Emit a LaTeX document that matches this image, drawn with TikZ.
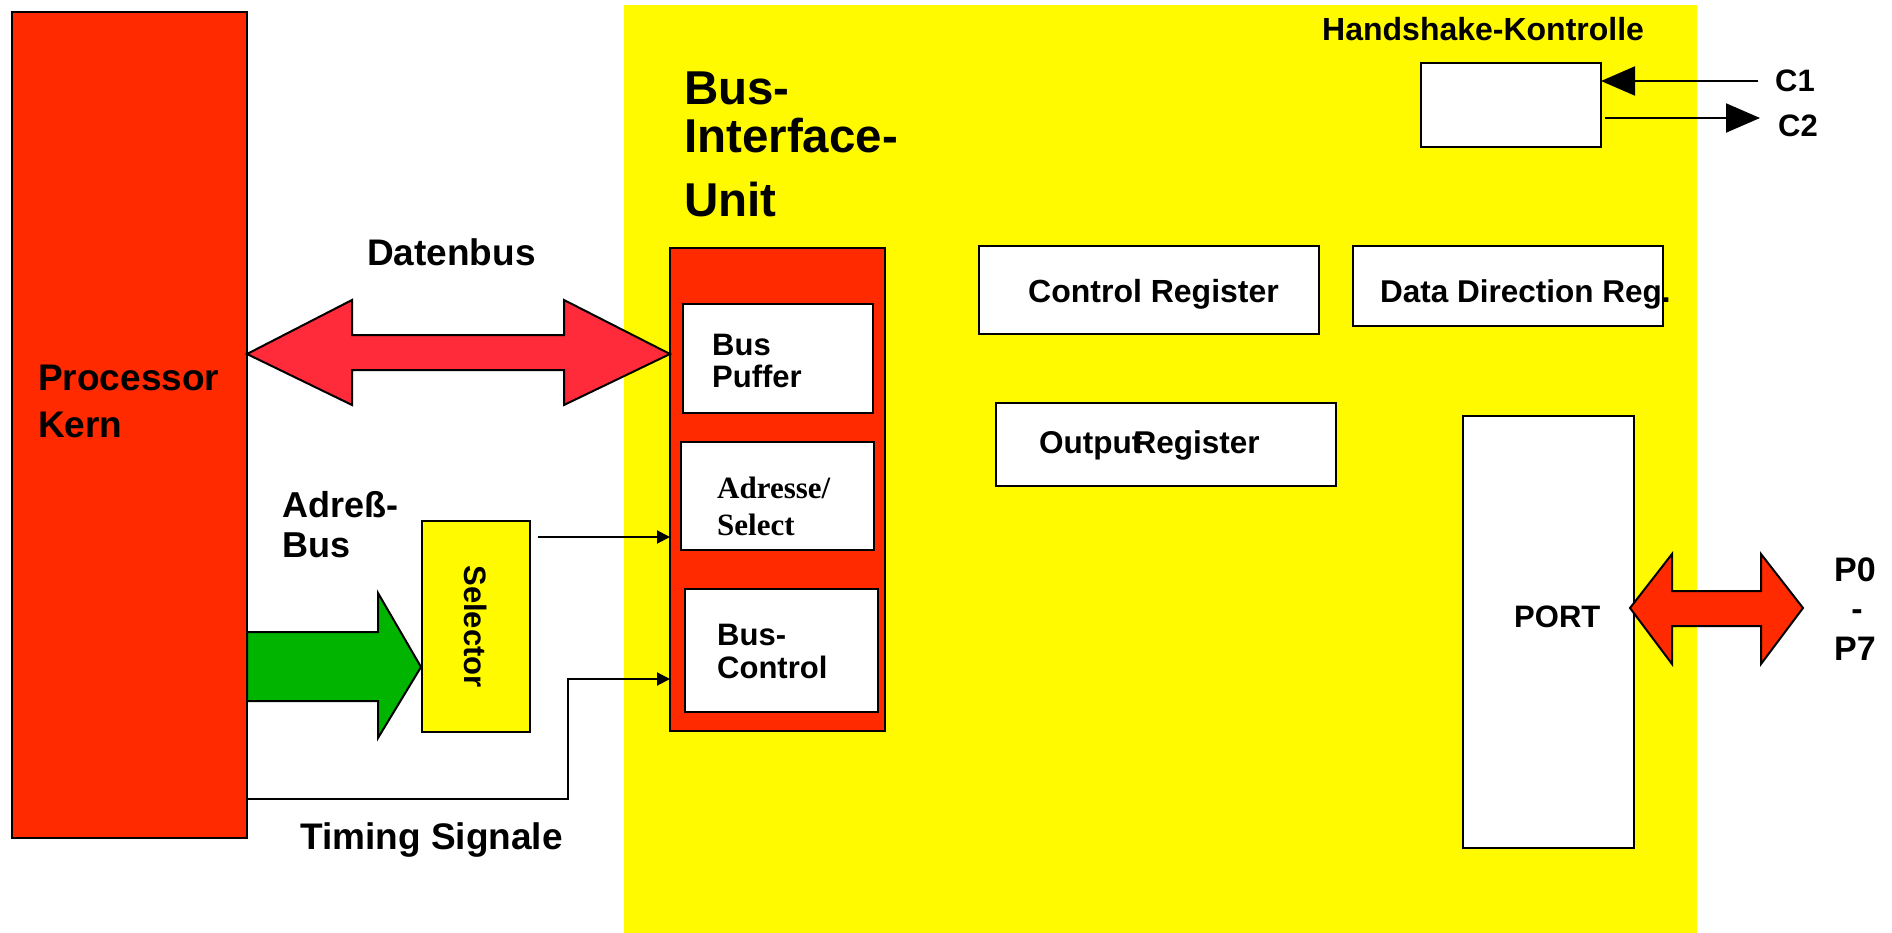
\documentclass[tikz,border=0pt]{standalone}
\usepackage{fontspec}
\setmainfont{Liberation Sans}
\newfontfamily\serifbf{Liberation Serif}
\usetikzlibrary{arrows.meta}
\definecolor{procred}{RGB}{255,42,0}
\definecolor{busred}{RGB}{255,42,58}
\definecolor{biuyellow}{RGB}{255,250,0}
\definecolor{arrgreen}{RGB}{0,180,0}
\tikzset{
  box/.style={draw=black, line width=2pt, fill=white, anchor=north west, inner sep=0pt, outer sep=0pt},
  lbl/.style={inner sep=0pt, anchor=base west, font=\bfseries\fontsize{31}{31}\selectfont},
  biglbl/.style={lbl, font=\bfseries\fontsize{37}{37}\selectfont},
  titlelbl/.style={lbl, font=\bfseries\fontsize{47.5}{47.5}\selectfont},
  fatarrow/.style={draw=black, line width=2pt, line join=miter},
  sig/.style={draw=black, line width=2pt, -{Triangle[length=13pt,width=13pt]}},
  hsarrow/.style={draw=black, line width=2pt, -{Triangle[length=34pt,width=29pt]}}
}
\begin{document}
\begin{tikzpicture}[x=1pt,y=-1pt]
\useasboundingbox (0,0) rectangle (1892,933);
% background of the bus interface unit
\node[fill=biuyellow, inner sep=0pt, outer sep=0pt, anchor=north west, minimum width=1073pt, minimum height=928pt] (biu) at (624,5) {};
% processor
\node[box, fill=procred, minimum width=235pt, minimum height=826pt] (proc) at (12,12) {};
\node[biglbl] (proct1) at (38,390) {Processor};
\node[biglbl] (proct2) at (38,437) {Kern};
% BIU title
\node[titlelbl] (biut1) at (684,105) {Bus-};
\node[titlelbl] (biut2) at (684,153) {Interface-};
\node[titlelbl] (biut3) at (684,217) {Unit};
% BIU red block and its boxes
\node[box, fill=procred, minimum width=215pt, minimum height=483pt] (biured) at (670,248) {};
\node[box, minimum width=190pt, minimum height=109pt] (puffer) at (683,304) {};
\node[lbl] (puffert1) at (712,355) {Bus};
\node[lbl] (puffert2) at (712,387) {Puffer};
\node[box, minimum width=193pt, minimum height=108pt] (adr) at (681,442) {};
\node[lbl, font=\serifbf\bfseries\fontsize{31}{31}\selectfont] (adrt1) at (717,498) {Adresse/};
\node[lbl, font=\serifbf\bfseries\fontsize{31}{31}\selectfont] (adrt2) at (717,535) {Select};
\node[box, minimum width=193pt, minimum height=123pt] (bctl) at (685,589) {};
\node[lbl] (bctlt1) at (717,645) {Bus-};
\node[lbl] (bctlt2) at (717,678) {Control};
% selector
\node[box, fill=biuyellow, minimum width=108pt, minimum height=211pt] (sel) at (422,521) {};
\node[inner sep=0pt, rotate=-90, font=\bfseries\fontsize{31}{31}\selectfont] (selt) at (sel.center) {Selector};
% labels left
\node[biglbl] (datt) at (367,266) {Datenbus};
\node[lbl, font=\bfseries\fontsize{36}{36}\selectfont] (adbt1) at (282,517) {Adreß-};
\node[lbl, font=\bfseries\fontsize{36}{36}\selectfont] (adbt2) at (282,557) {Bus};
\node[biglbl] (timt) at (300,849) {Timing Signale};
% registers
\node[box, minimum width=340pt, minimum height=88pt] (creg) at (979,246) {};
\node[lbl, font=\bfseries\fontsize{32}{32}\selectfont] (cregt) at (1028,302) {Control Register};
\node[box, minimum width=310pt, minimum height=80pt] (ddr) at (1353,246) {};
\node[lbl, font=\bfseries\fontsize{31.5}{31.5}\selectfont] (ddrt) at (1380,302) {Data Direction Reg.};
\node[box, minimum width=340pt, minimum height=83pt] (oreg) at (996,403) {};
\node[lbl, font=\bfseries\fontsize{31.5}{31.5}\selectfont] (oregt) at (1039,453) {Output\kern-0.28em Register};
\node[box, minimum width=171pt, minimum height=432pt] (port) at (1463,416) {};
\node[lbl] (portt) at (1514,627) {PORT};
% handshake
\node[lbl, font=\bfseries\fontsize{32}{32}\selectfont] (hst) at (1322,41) {Handshake-Kontrolle};
\node[box, minimum width=180pt, minimum height=84pt] (hs) at (1421,63) {};
\coordinate (c1in) at (1758,81);
\coordinate (c2start) at (1605,118);
\coordinate (c2out) at (1760,118);
\draw[hsarrow] (c1in) -- (hs.east |- c1in);
\draw[hsarrow] (c2start) -- (c2out);
\node[lbl] (c1t) at (1775,92) {C1};
\node[lbl] (c2t) at (1778,137) {C2};
% P0 - P7
\node[lbl, anchor=base, font=\bfseries\fontsize{34}{34}\selectfont] (pt1) at (1855,581) {P0};
\node[lbl, anchor=base, font=\bfseries\fontsize{34}{34}\selectfont] (pt2) at (1857,620) {-};
\node[lbl, anchor=base, font=\bfseries\fontsize{34}{34}\selectfont] (pt3) at (1855,660) {P7};
% Datenbus double arrow
\draw[fatarrow, fill=busred] (247,354) -- (352,300) -- (352,335) -- (564,335) -- (564,300) -- (670,354)
  -- (564,405) -- (564,370) -- (352,370) -- (352,405) -- cycle;
% address bus arrow
\draw[fatarrow, fill=arrgreen] (247,632) -- (378,632) -- (378,593) -- (421,667) -- (378,738) -- (378,701) -- (247,701) -- cycle;
% port arrow
\draw[fatarrow, fill=procred] (1630,608) -- (1672,554) -- (1672,591) -- (1761,591) -- (1761,554) -- (1803,608)
  -- (1761,664) -- (1761,626) -- (1672,626) -- (1672,664) -- cycle;
% thin signal arrows
\coordinate (selout) at (538,537);
\draw[sig] (selout) -- (biured.west |- selout);
\coordinate (tstart) at (247,799);
\coordinate (tcorner) at (568,679);
\draw[sig] (tstart) -| (tcorner) -- (biured.west |- tcorner);
\end{tikzpicture}
\end{document}
